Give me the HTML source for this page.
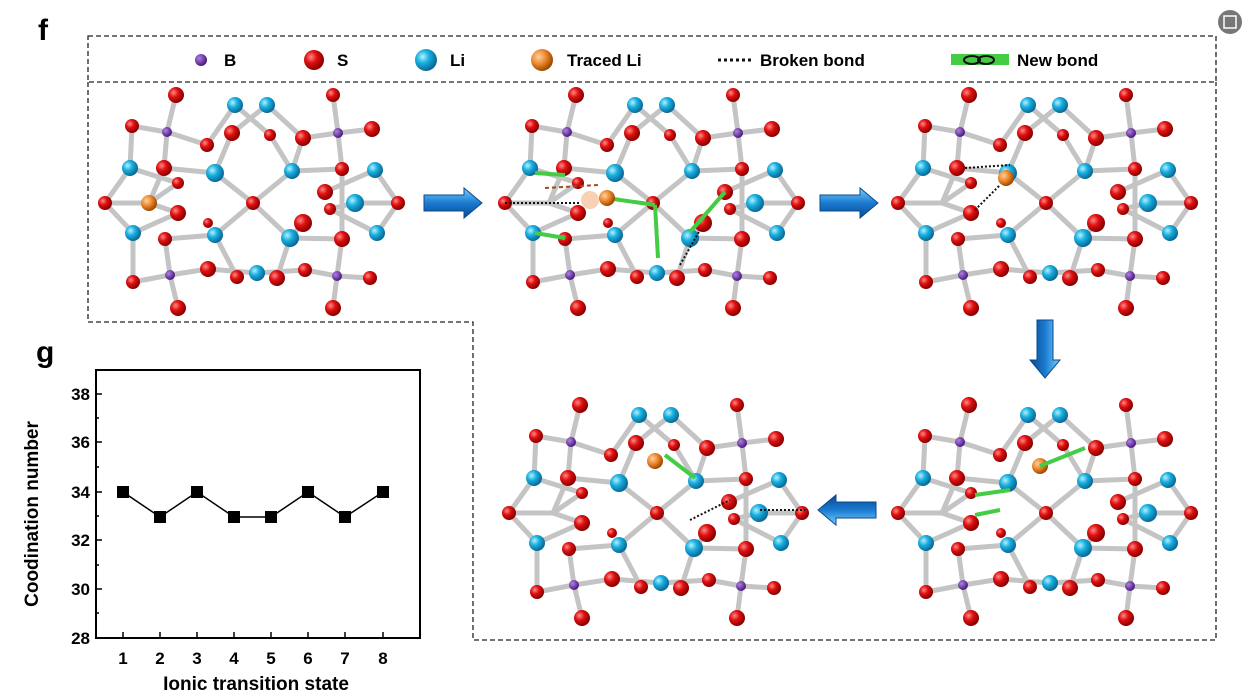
<!DOCTYPE html>
<html><head><meta charset="utf-8"><style>
html,body{margin:0;padding:0;background:#fff;}
svg{display:block;font-family:"Liberation Sans",Arial,sans-serif;}
</style></head><body>
<svg width="1256" height="699" viewBox="0 0 1256 699" xmlns="http://www.w3.org/2000/svg">
<defs>
<radialGradient id="gr" cx="35%" cy="35%" r="65%"><stop offset="0" stop-color="#ff8a8a"/><stop offset="0.45" stop-color="#e01010"/><stop offset="1" stop-color="#8a0000"/></radialGradient>
<radialGradient id="gb" cx="35%" cy="35%" r="65%"><stop offset="0" stop-color="#b8f0ff"/><stop offset="0.45" stop-color="#18b0e0"/><stop offset="1" stop-color="#0a6a98"/></radialGradient>
<radialGradient id="gp" cx="35%" cy="35%" r="65%"><stop offset="0" stop-color="#b080e0"/><stop offset="1" stop-color="#4a1a80"/></radialGradient>
<radialGradient id="go" cx="35%" cy="35%" r="65%"><stop offset="0" stop-color="#ffd0a0"/><stop offset="0.5" stop-color="#ee8a30"/><stop offset="1" stop-color="#a04a00"/></radialGradient>
<linearGradient id="ga" x1="0" y1="0" x2="0" y2="1"><stop offset="0" stop-color="#7ad0ff"/><stop offset="0.5" stop-color="#1a7ad0"/><stop offset="1" stop-color="#0a4a90"/></linearGradient>
<g id="mol">
<g stroke="#c4c4c4" stroke-width="5" stroke-linecap="round">
<line x1="167" y1="132" x2="176" y2="95"/><line x1="167" y1="132" x2="132" y2="126"/><line x1="167" y1="132" x2="207" y2="145"/><line x1="167" y1="132" x2="164" y2="168"/>
<line x1="132" y1="126" x2="130" y2="168"/><line x1="130" y1="168" x2="105" y2="203"/><line x1="130" y1="168" x2="178" y2="183"/>
<line x1="105" y1="203" x2="133" y2="233"/><line x1="105" y1="203" x2="149" y2="203"/>
<line x1="149" y1="203" x2="164" y2="168"/><line x1="149" y1="203" x2="178" y2="213"/><line x1="149" y1="203" x2="178" y2="183"/>
<line x1="133" y1="233" x2="133" y2="282"/><line x1="133" y1="233" x2="178" y2="213"/><line x1="164" y1="168" x2="215" y2="173"/>
<line x1="207" y1="145" x2="235" y2="105"/><line x1="232" y1="133" x2="215" y2="173"/><line x1="232" y1="133" x2="267" y2="105"/>
<line x1="235" y1="105" x2="270" y2="135"/><line x1="270" y1="135" x2="292" y2="171"/><line x1="267" y1="105" x2="303" y2="138"/>
<line x1="303" y1="138" x2="338" y2="133"/><line x1="303" y1="138" x2="292" y2="171"/>
<line x1="338" y1="133" x2="333" y2="95"/><line x1="338" y1="133" x2="372" y2="129"/><line x1="338" y1="133" x2="342" y2="169"/>
<line x1="292" y1="171" x2="342" y2="169"/><line x1="292" y1="171" x2="253" y2="203"/><line x1="215" y1="173" x2="253" y2="203"/>
<line x1="253" y1="203" x2="215" y2="235"/><line x1="253" y1="203" x2="290" y2="238"/>
<line x1="342" y1="169" x2="342" y2="239"/><line x1="375" y1="170" x2="325" y2="192"/><line x1="375" y1="170" x2="398" y2="203"/>
<line x1="355" y1="203" x2="398" y2="203"/><line x1="355" y1="203" x2="330" y2="209"/><line x1="330" y1="209" x2="377" y2="233"/><line x1="377" y1="233" x2="398" y2="203"/>
<line x1="165" y1="239" x2="215" y2="235"/><line x1="165" y1="239" x2="170" y2="275"/><line x1="215" y1="235" x2="237" y2="277"/>
<line x1="290" y1="238" x2="342" y2="239"/><line x1="290" y1="238" x2="277" y2="278"/><line x1="290" y1="238" x2="303" y2="223"/>
<line x1="342" y1="239" x2="337" y2="276"/><line x1="337" y1="276" x2="370" y2="278"/><line x1="337" y1="276" x2="333" y2="308"/><line x1="337" y1="276" x2="305" y2="270"/>
<line x1="170" y1="275" x2="133" y2="282"/><line x1="170" y1="275" x2="178" y2="308"/><line x1="170" y1="275" x2="208" y2="269"/>
<line x1="208" y1="269" x2="257" y2="273"/><line x1="257" y1="273" x2="305" y2="270"/>
</g>
<g fill="url(#gr)">
<circle cx="176" cy="95" r="8"/><circle cx="132" cy="126" r="7"/><circle cx="207" cy="145" r="7"/><circle cx="232" cy="133" r="8"/><circle cx="270" cy="135" r="6"/><circle cx="303" cy="138" r="8"/><circle cx="333" cy="95" r="7"/><circle cx="372" cy="129" r="8"/><circle cx="164" cy="168" r="8"/><circle cx="178" cy="183" r="6"/><circle cx="105" cy="203" r="7"/><circle cx="178" cy="213" r="8"/><circle cx="253" cy="203" r="7"/><circle cx="342" cy="169" r="7"/><circle cx="325" cy="192" r="8"/><circle cx="330" cy="209" r="6"/><circle cx="398" cy="203" r="7"/><circle cx="208" cy="223" r="5"/><circle cx="303" cy="223" r="9"/><circle cx="165" cy="239" r="7"/><circle cx="342" cy="239" r="8"/><circle cx="208" cy="269" r="8"/><circle cx="237" cy="277" r="7"/><circle cx="277" cy="278" r="8"/><circle cx="305" cy="270" r="7"/><circle cx="133" cy="282" r="7"/><circle cx="370" cy="278" r="7"/><circle cx="178" cy="308" r="8"/><circle cx="333" cy="308" r="8"/>
</g>
<g fill="url(#gb)">
<circle cx="235" cy="105" r="8"/><circle cx="267" cy="105" r="8"/><circle cx="130" cy="168" r="8"/><circle cx="215" cy="173" r="9"/><circle cx="292" cy="171" r="8"/><circle cx="375" cy="170" r="8"/><circle cx="355" cy="203" r="9"/><circle cx="133" cy="233" r="8"/><circle cx="215" cy="235" r="8"/><circle cx="290" cy="238" r="9"/><circle cx="377" cy="233" r="8"/><circle cx="257" cy="273" r="8"/>
</g>
<g fill="url(#gp)"><circle cx="167" cy="132" r="5"/><circle cx="338" cy="133" r="5"/><circle cx="170" cy="275" r="5"/><circle cx="337" cy="276" r="5"/></g>
</g>
<g id="arrR"><polygon points="0,-8 40,-8 40,-15 58,0 40,15 40,8 0,8" fill="url(#ga)" stroke="#0a4a90" stroke-width="1"/></g>
</defs>

<rect x="0" y="0" width="1256" height="699" fill="#fff"/>
<circle cx="1230" cy="22" r="12" fill="#777"/><rect x="1224" y="16" width="12" height="12" fill="none" stroke="#fff" stroke-width="1.5"/>
<text x="38" y="40" font-size="30" font-weight="bold">f</text>
<text x="36" y="362" font-size="30" font-weight="bold">g</text>

<rect x="88" y="36" width="1128" height="46" fill="none" stroke="#222" stroke-width="1.3" stroke-dasharray="5,3"/>
<circle cx="201" cy="60" r="6" fill="url(#gp)"/><text x="224" y="66" font-size="17" font-weight="bold">B</text>
<circle cx="314" cy="60" r="10" fill="url(#gr)"/><text x="337" y="66" font-size="17" font-weight="bold">S</text>
<circle cx="426" cy="60" r="11" fill="url(#gb)"/><text x="450" y="66" font-size="17" font-weight="bold">Li</text>
<circle cx="542" cy="60" r="11" fill="url(#go)"/><text x="567" y="66" font-size="17" font-weight="bold">Traced Li</text>
<line x1="718" y1="60" x2="752" y2="60" stroke="#111" stroke-width="3" stroke-dasharray="3,3"/><text x="760" y="66" font-size="17" font-weight="bold">Broken bond</text>
<rect x="951" y="54" width="58" height="11" fill="#44cc44"/><ellipse cx="972" cy="60" rx="8" ry="4" fill="none" stroke="#111" stroke-width="2"/><ellipse cx="986" cy="60" rx="8" ry="4" fill="none" stroke="#111" stroke-width="2"/>
<text x="1017" y="66" font-size="17" font-weight="bold">New bond</text>

<polyline points="88,82 88,322 473,322 473,640 1216,640 1216,82" fill="none" stroke="#222" stroke-width="1.3" stroke-dasharray="5,3"/>

<use href="#mol"/>
<circle cx="149" cy="203" r="8" fill="url(#go)"/>
<use href="#mol" transform="translate(400,0)"/>
<use href="#mol" transform="translate(793,0)"/>
<use href="#mol" transform="translate(793,310)"/>
<use href="#mol" transform="translate(404,310)"/>

<g stroke="#44cc44" stroke-width="4"><line x1="607" y1="198" x2="655" y2="205"/><line x1="655" y1="205" x2="658" y2="258"/><line x1="690" y1="232" x2="725" y2="192"/><line x1="535" y1="173" x2="565" y2="175"/><line x1="535" y1="233" x2="565" y2="238"/></g>
<circle cx="590" cy="200" r="9" fill="#f4b080" opacity="0.6"/><circle cx="607" cy="198" r="8" fill="url(#go)"/>
<line x1="545" y1="188" x2="598" y2="185" stroke="#a04a20" stroke-width="2" stroke-dasharray="4,3"/>
<g stroke="#111" stroke-width="2" stroke-dasharray="2,2"><line x1="505" y1="203" x2="580" y2="203"/><line x1="680" y1="265" x2="700" y2="230"/></g>
<circle cx="1006" cy="178" r="8" fill="url(#go)"/>
<g stroke="#111" stroke-width="2" stroke-dasharray="2,2"><line x1="965" y1="168" x2="1010" y2="165"/><line x1="975" y1="210" x2="1000" y2="185"/></g>
<circle cx="1040" cy="466" r="8" fill="url(#go)"/>
<g stroke="#44cc44" stroke-width="4"><line x1="1040" y1="466" x2="1085" y2="448"/><line x1="975" y1="495" x2="1010" y2="490"/><line x1="975" y1="515" x2="1000" y2="510"/></g>
<circle cx="655" cy="461" r="8" fill="url(#go)"/>
<g stroke="#44cc44" stroke-width="4"><line x1="665" y1="455" x2="695" y2="478"/></g>
<g stroke="#111" stroke-width="2" stroke-dasharray="2,2"><line x1="690" y1="520" x2="730" y2="500"/><line x1="760" y1="510" x2="805" y2="510"/></g>

<use href="#arrR" transform="translate(424,203)"/>
<use href="#arrR" transform="translate(820,203)"/>
<use href="#arrR" transform="translate(1045,320) rotate(90)"/>
<use href="#arrR" transform="translate(876,510) rotate(180)"/>

<rect x="96" y="370" width="324" height="268" fill="none" stroke="#000" stroke-width="2"/>
<g stroke="#000" stroke-width="1.5">
<line x1="96" y1="394" x2="102" y2="394"/><line x1="96" y1="418" x2="99" y2="418"/><line x1="96" y1="442" x2="102" y2="442"/><line x1="96" y1="467" x2="99" y2="467"/><line x1="96" y1="492" x2="102" y2="492"/><line x1="96" y1="516" x2="99" y2="516"/><line x1="96" y1="540" x2="102" y2="540"/><line x1="96" y1="565" x2="99" y2="565"/><line x1="96" y1="589" x2="102" y2="589"/><line x1="96" y1="613" x2="99" y2="613"/>
<line x1="123" y1="638" x2="123" y2="632"/><line x1="160" y1="638" x2="160" y2="632"/><line x1="197" y1="638" x2="197" y2="632"/><line x1="234" y1="638" x2="234" y2="632"/><line x1="271" y1="638" x2="271" y2="632"/><line x1="308" y1="638" x2="308" y2="632"/><line x1="345" y1="638" x2="345" y2="632"/><line x1="383" y1="638" x2="383" y2="632"/>
</g>
<polyline points="123,492 160,517 197,492 234,517 271,517 308,492 345,517 383,492" fill="none" stroke="#000" stroke-width="1.5"/>
<g fill="#000"><rect x="117" y="486" width="12" height="12"/><rect x="154" y="511" width="12" height="12"/><rect x="191" y="486" width="12" height="12"/><rect x="228" y="511" width="12" height="12"/><rect x="265" y="511" width="12" height="12"/><rect x="302" y="486" width="12" height="12"/><rect x="339" y="511" width="12" height="12"/><rect x="377" y="486" width="12" height="12"/></g>
<g font-size="17" font-weight="bold" text-anchor="end">
<text x="90" y="400">38</text><text x="90" y="448">36</text><text x="90" y="498">34</text><text x="90" y="546">32</text><text x="90" y="595">30</text><text x="90" y="644">28</text></g>
<g font-size="17" font-weight="bold" text-anchor="middle">
<text x="123" y="664">1</text><text x="160" y="664">2</text><text x="197" y="664">3</text><text x="234" y="664">4</text><text x="271" y="664">5</text><text x="308" y="664">6</text><text x="345" y="664">7</text><text x="383" y="664">8</text>
<text x="256" y="690" font-size="19">Ionic transition state</text>
<text transform="translate(38,514) rotate(-90)" font-size="19">Coodination number</text></g>
</svg>
</body></html>
